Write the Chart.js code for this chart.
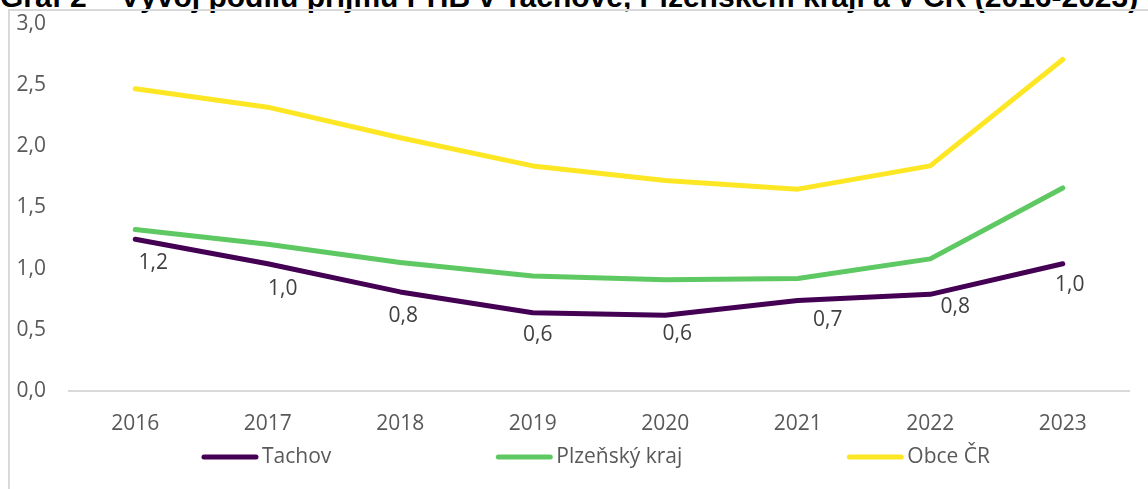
<!DOCTYPE html>
<html lang="cs">
<head>
<meta charset="utf-8">
<title>Graf 2</title>
<script src="https://cdn.jsdelivr.net/npm/chart.js@4.4.1/dist/chart.umd.min.js"></script>
<style>
  html, body {
    margin: 0;
    padding: 0;
    width: 1148px;
    height: 489px;
    overflow: hidden;
    background: #fff;
  }
  #title {
    position: absolute;
    left: 0;
    top: -18px;
    white-space: nowrap;
    font: bold 30px "Liberation Sans", Arial, sans-serif;
    line-height: 30px;
    color: #000;
  }
  #box {
    position: absolute;
    left: 8px;
    top: 9px;
    border: 2px solid #d9d9d9;
    width: 1180px;
    height: 500px;
  }
</style>
</head>
<body>
<div id="title">Graf 2 – Vývoj podílu příjmů PHB v Tachově, Plzeňském kraji a v ČR (2016-2023)</div>
<div id="box"><canvas id="chart" width="1180" height="500"></canvas></div>
<script>
// data
const years = ["2016", "2017", "2018", "2019", "2020", "2021", "2022", "2023"];
const tachov = [1.24, 1.04, 0.81, 0.64, 0.62, 0.74, 0.79, 1.04];
const plzenskyKraj = [1.32, 1.20, 1.05, 0.94, 0.91, 0.92, 1.08, 1.66];
const obceCR = [2.47, 2.32, 2.07, 1.84, 1.72, 1.65, 1.84, 2.71];
const yMin = 0, yMax = 3, yStep = 0.5;

const FONT = "'Open Sans', sans-serif";
const TEXT = "#595959";
const SIZE = 21;

const fmt = (v) => Number(v).toFixed(1).replace(".", ",");

// Tachov labels sit below the points, shifted by hand in the original
const labelShift = [[18, 24], [15, 25], [3, 24], [5, 22], [12, 19], [30, 20], [25, 13], [7, 21]];

const tachovLabels = {
    id: "tachovLabels",
    afterDatasetsDraw(chart) {
        const ctx = chart.ctx;
        const meta = chart.getDatasetMeta(0);
        ctx.save();
        ctx.font = SIZE + "px " + FONT;
        ctx.fillStyle = "#404040";
        ctx.textAlign = "center";
        ctx.textBaseline = "middle";
        meta.data.forEach((pt, i) => {
            const s = labelShift[i] || [0, 22];
            ctx.fillText(fmt(tachov[i]), pt.x + s[0], pt.y + s[1]);
        });
        ctx.restore();
    },
};

// Excel-like legend: long line + text, wide gaps between entries
const lineLegend = {
    id: "lineLegend",
    afterDraw(chart) {
        const ctx = chart.ctx;
        const lineLen = 56, textGap = 4, itemGap = 165;
        ctx.save();
        ctx.font = SIZE + "px " + FONT;
        const items = chart.data.datasets.map((ds) => ({
            text: ds.label,
            color: ds.borderColor,
            w: lineLen + textGap + ctx.measureText(ds.label).width,
        }));
        const total = items.reduce((a, it) => a + it.w, 0) + itemGap * (items.length - 1);
        let x = 586 - total / 2;
        const y = 446;
        items.forEach((it) => {
            ctx.strokeStyle = it.color;
            ctx.lineWidth = 5;
            ctx.lineCap = "round";
            ctx.beginPath();
            ctx.moveTo(x + 2, y);
            ctx.lineTo(x + lineLen - 2, y);
            ctx.stroke();
            ctx.fillStyle = TEXT;
            ctx.textAlign = "left";
            ctx.textBaseline = "middle";
            ctx.fillText(it.text, x + lineLen + textGap, y);
            x += it.w + itemGap;
        });
        ctx.restore();
    },
};

const lineStyle = {
    borderWidth: 5,
    pointRadius: 0,
    pointHoverRadius: 0,
    tension: 0,
    borderCapStyle: "round",
    borderJoinStyle: "round",
    fill: false,
};

new Chart(document.getElementById("chart"), {
    type: "line",
    data: {
        labels: years,
        datasets: [
            { label: "Tachov", data: tachov, borderColor: "#440154", backgroundColor: "#440154", ...lineStyle },
            { label: "Plzeňský kraj", data: plzenskyKraj, borderColor: "#5ec962", backgroundColor: "#5ec962", ...lineStyle },
            { label: "Obce ČR", data: obceCR, borderColor: "#fde725", backgroundColor: "#fde725", ...lineStyle },
        ],
    },
    options: {
        responsive: false,
        animation: false,
        layout: {
            padding: { left: 6, right: 61, top: 13, bottom: 76 },
        },
        plugins: {
            legend: { display: false },
            title: { display: false },
            tooltip: { enabled: false },
        },
        scales: {
            x: {
                offset: true,
                grid: { display: false, drawTicks: false },
                border: { display: true, color: "#d9d9d9", width: 2 },
                ticks: {
                    color: TEXT,
                    font: { family: FONT, size: SIZE },
                    padding: 20,
                    maxRotation: 0,
                },
                afterFit: (s) => { s.height = 44; },
            },
            y: {
                min: yMin,
                max: yMax,
                grid: { display: false, drawTicks: false },
                border: { display: false },
                ticks: {
                    stepSize: yStep,
                    color: TEXT,
                    font: { family: FONT, size: SIZE },
                    padding: 23,
                    callback: (v) => fmt(v),
                },
                afterFit: (s) => {
                    s.width = 53;
                    s.paddingTop = 0;
                    s.paddingBottom = 0;
                },
            },
        },
    },
    plugins: [tachovLabels, lineLegend],
});
</script>
</body>
</html>
